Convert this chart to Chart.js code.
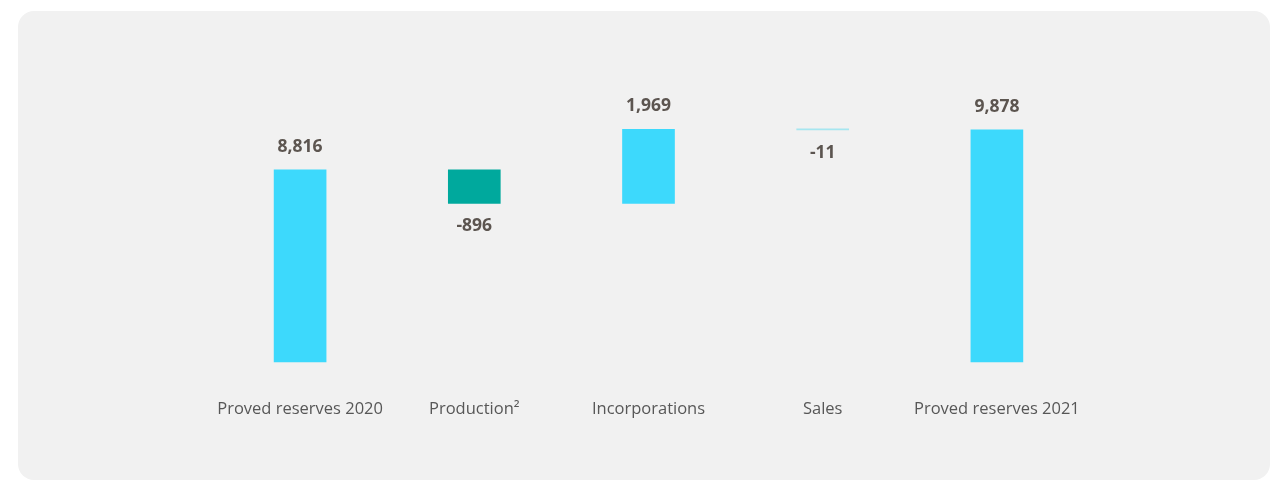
<!DOCTYPE html>
<html lang="en">
<head>
    <meta charset="UTF-8">
    <script src="https://cdn.jsdelivr.net/npm/chart.js@4.4.1/dist/chart.umd.min.js"></script>
    <title>Proved reserves</title>
    <style>
        html, body {margin: 0; padding: 0; background: #ffffff;}
        .panel {
            position: absolute; left: 18px; top: 11px; width: 1252px; height: 469px;
            background: #f1f1f1; border-radius: 16px;
        }
        .wrap {position: absolute; left: 0; top: 0; width: 1274px; height: 482px;}
    </style>
</head>
<body>
    <div class="panel"></div>
    <div class="wrap">
        <canvas id="chart" width="1274" height="482"></canvas>
    </div>

    <script>
    // waterfall data
    const categories = ['Proved reserves 2020', 'Production\u00B2', 'Incorporations', 'Sales', 'Proved reserves 2021'];
    const changes = [8816, -896, 1969, -11, 9878];
    const isTotal = [true, false, false, false, true];
    const barColors = ['#3dd9fc', '#00a99d', '#3dd9fc', '#a6e6f0', '#3dd9fc'];

    // build floating ranges from the running total
    let running = 0;
    const ranges = changes.map((v, i) => {
        if (isTotal[i]) { running = v; return [0, v]; }
        const start = running;
        running += v;
        return [Math.min(start, running), Math.max(start, running)];
    });

    const valueLabels = {
        id: 'valueLabels',
        afterDatasetsDraw(chart) {
            const ctx = chart.ctx;
            const meta = chart.getDatasetMeta(0);
            ctx.save();
            ctx.font = 'bold 17.5px "Open Sans"';
            ctx.fillStyle = '#5c5550';
            ctx.textAlign = 'center';
            ctx.textBaseline = 'middle';
            meta.data.forEach((bar, i) => {
                const v = changes[i];
                const txt = v.toLocaleString('en-US');
                const top = Math.min(bar.y, bar.base);
                const bottom = Math.max(bar.y, bar.base);
                const y = v >= 0 ? top - 23 : bottom + 23;
                ctx.fillText(txt, bar.x, y);
            });
            ctx.restore();
        }
    };

    const ctx = document.getElementById('chart').getContext('2d');
    const myChart = new Chart(ctx, {
        type: 'bar',
        data: {
            labels: categories,
            datasets: [{
                data: ranges,
                backgroundColor: barColors,
                borderWidth: 0,
                barThickness: 52,
                minBarLength: 1
            }]
        },
        options: {
            responsive: false,
            animation: false,
            layout: {padding: {left: 213, right: 190, top: 60, bottom: 26}},
            plugins: {legend: {display: false}, tooltip: {enabled: false}},
            scales: {
                x: {
                    grid: {display: false, drawTicks: false},
                    border: {display: false},
                    ticks: {
                        padding: 37,
                        color: '#575757',
                        font: {family: '"Open Sans"', size: 16.5}
                    }
                },
                y: {
                    display: false,
                    min: 3692,
                    max: 11738
                }
            }
        },
        plugins: [valueLabels]
    });
    </script>
</body>
</html>
